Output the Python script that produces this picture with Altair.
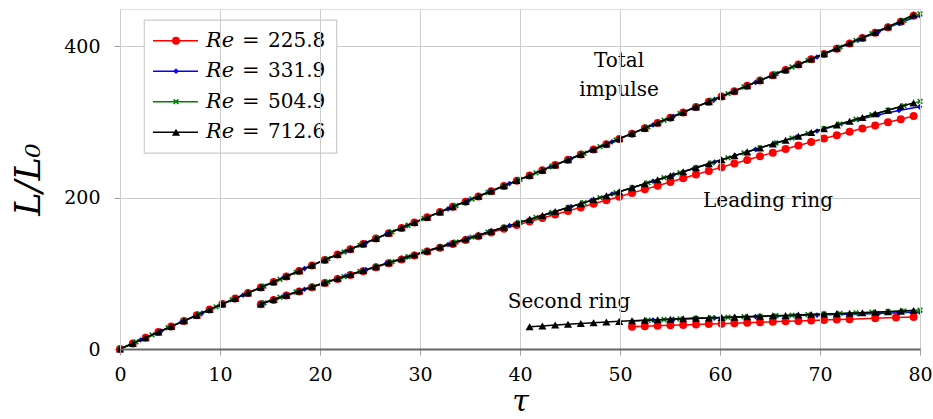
import altair as alt
import pandas as pd

SERIES = ["Re = 225.8", "Re = 331.9", "Re = 504.9", "Re = 712.6"]
VALUES = ["225.8", "331.9", "504.9", "712.6"]
COLORS = ["#ff0000", "#0000ff", "#008000", "#000000"]

# time grid of Re=225.8 and Re=712.6
TAU_A = [0, 1.28, 2.56, 3.84, 5.12, 6.4, 7.68, 8.96, 10.24, 11.52,
         12.8, 14.08, 15.36, 16.64, 17.92, 19.2, 20.48, 21.76, 23.04, 24.32,
         25.6, 26.88, 28.16, 29.44, 30.72, 32.0, 33.28, 34.56, 35.84, 37.12,
         38.4, 39.68, 40.96, 42.24, 43.52, 44.8, 46.08, 47.36, 48.64, 49.92,
         51.2, 52.48, 53.76, 55.04, 56.32, 57.6, 58.88, 60.16, 61.44, 62.72,
         64.0, 65.28, 66.56, 67.84, 69.12, 70.4, 71.68, 72.96, 74.24, 75.52,
         76.8, 78.08, 79.36]
# time grid of Re=331.9
TAU_B = [0, 2.05, 4.1, 6.15, 8.2, 10.25, 12.3, 14.35, 16.4, 18.45,
         20.5, 22.55, 24.6, 26.65, 28.7, 30.75, 32.8, 34.85, 36.9, 38.95,
         41.0, 43.05, 45.1, 47.15, 49.2, 51.25, 53.3, 55.35, 57.4, 59.45,
         61.5, 63.55, 65.6, 67.65, 69.7, 71.75, 73.8, 75.85, 77.9, 79.95]
# time grid of Re=504.9
TAU_C = [0, 1.6, 3.2, 4.8, 6.4, 8.0, 9.6, 11.2, 12.8, 14.4,
         16.0, 17.6, 19.2, 20.8, 22.4, 24.0, 25.6, 27.2, 28.8, 30.4,
         32.0, 33.6, 35.2, 36.8, 38.4, 40.0, 41.6, 43.2, 44.8, 46.4,
         48.0, 49.6, 51.2, 52.8, 54.4, 56.0, 57.6, 59.2, 60.8, 62.4,
         64.0, 65.6, 67.2, 68.8, 70.4, 72.0, 73.6, 75.2, 76.8, 78.4,
         80.0]
TAU_RED_SECOND = [51.2, 52.48, 53.76, 55.04, 56.32, 57.6, 58.88, 60.16, 61.44, 62.72,
                  64.0, 65.28, 66.56, 67.84, 69.12, 70.4, 71.68, 72.96, 75.52, 77.6,
                  79.36]

RED_TOTAL = [0, 7.4, 14.8, 22.3, 29.7, 37.1, 44.5, 52.0, 59.4, 66.6,
             73.9, 81.2, 88.5, 95.8, 103.1, 110.4, 117.6, 124.7, 131.7, 138.8,
             145.8, 152.8, 159.9, 166.9, 173.9, 180.8, 187.7, 194.6, 201.5, 208.4,
             215.3, 222.2, 229.1, 236.0, 242.9, 249.8, 256.7, 263.6, 270.5, 277.4,
             284.4, 291.4, 298.4, 305.4, 312.4, 319.5, 326.5, 333.5, 340.5, 347.5,
             354.5, 361.5, 368.6, 375.6, 382.6, 389.6, 396.6, 403.6, 410.6, 417.7,
             425.0, 432.3, 440.0]
RED_LEAD = [59.0, 64.8, 70.5, 76.0, 81.6, 87.0, 92.3, 97.6, 102.8, 108.0,
            113.1, 118.3, 123.4, 128.6, 133.7, 138.8, 143.9, 148.9, 153.9, 158.8,
            163.6, 168.3, 173.0, 177.6, 182.3, 187.0, 191.7, 196.4, 201.1, 205.9,
            210.8, 215.7, 220.6, 225.5, 230.4, 235.2, 240.1, 244.9, 249.7, 254.5,
            259.3, 264.0, 268.7, 273.4, 277.9, 282.4, 286.8, 291.1, 295.3, 299.4,
            303.5, 307.6]
RED_SECOND = [29.4, 30.0, 30.6, 31.2, 31.8, 32.4, 33.0, 33.5, 34.1, 34.7,
              35.3, 35.9, 36.5, 37.0, 37.6, 38.2, 38.8, 39.4, 40.6, 41.5,
              42.4]

BLUE_TOTAL = [0, 11.9, 23.8, 35.7, 47.6, 59.4, 71.1, 82.8, 94.5, 106.2,
              117.7, 129.0, 140.3, 151.6, 162.9, 174.1, 185.1, 196.2, 207.3, 218.4,
              229.3, 240.4, 251.5, 262.5, 273.6, 284.7, 295.9, 307.2, 318.4, 329.6,
              340.9, 352.0, 363.2, 374.4, 385.6, 396.9, 408.1, 419.2, 430.0, 440.5]
BLUE_LEAD = [60.6, 69.8, 78.9, 87.7, 96.3, 104.8, 113.1, 121.4, 129.7, 138.0,
             146.2, 154.6, 162.9, 171.2, 179.6, 188.0, 196.3, 204.7, 213.1, 221.6,
             230.1, 238.6, 247.0, 255.4, 263.7, 272.0, 280.0, 287.9, 295.6, 302.8,
             309.4, 314.9, 319.8]
BLUE_SECOND = [37.0, 38.2, 39.2, 40.2, 41.1, 42.0, 42.8, 43.5, 44.1, 44.8,
               45.5, 46.2, 47.0, 47.9, 48.8]

GREEN_TOTAL = [0, 9.3, 18.6, 27.9, 37.1, 46.4, 55.7, 64.8, 73.9, 83.0,
               92.1, 101.2, 110.4, 119.3, 128.1, 136.9, 145.8, 154.6, 163.4, 172.2,
               180.8, 189.5, 198.1, 206.7, 215.3, 223.9, 232.6, 241.3, 249.9, 258.6,
               267.3, 275.9, 284.5, 293.3, 302.1, 310.9, 319.7, 328.5, 337.2, 346.0,
               354.8, 363.6, 372.4, 381.2, 389.9, 398.7, 407.5, 416.3, 425.1, 433.9,
               442.6]
GREEN_LEAD = [61.0, 68.3, 75.3, 82.2, 88.9, 95.6, 102.3, 108.8, 115.3, 121.8,
              128.3, 134.8, 141.3, 147.8, 154.3, 160.8, 167.3, 173.8, 180.3, 186.8,
              193.3, 199.8, 206.3, 212.9, 219.5, 226.2, 232.8, 239.4, 245.9, 252.5,
              259.0, 265.5, 272.0, 278.4, 284.7, 291.0, 297.2, 303.4, 309.4, 315.4,
              321.4, 327.0]
GREEN_SECOND = [38.0, 39.0, 39.8, 40.5, 41.2, 41.9, 42.6, 43.2, 43.9, 44.6,
                45.4, 46.2, 47.0, 47.8, 48.6, 49.5, 50.4, 51.4]

BLACK_TOTAL = [0, 7.4, 14.9, 22.4, 29.8, 37.2, 44.6, 52.1, 59.5, 66.8,
               74.1, 81.4, 88.7, 96.0, 103.3, 110.6, 117.8, 124.9, 132.0, 139.0,
               146.0, 153.1, 160.1, 167.1, 174.1, 181.0, 187.9, 194.8, 201.7, 208.6,
               215.5, 222.4, 229.3, 236.2, 243.1, 250.0, 256.9, 263.8, 270.7, 277.7,
               284.7, 291.7, 298.7, 305.7, 312.7, 319.7, 326.7, 333.7, 340.7, 347.8,
               354.8, 361.8, 368.9, 375.9, 383.0, 390.0, 397.1, 404.1, 411.2, 418.3,
               425.6, 433.2, 441.5]
BLACK_LEAD = [59.5, 65.3, 71.0, 76.6, 82.2, 87.6, 93.0, 98.3, 103.6, 108.8,
              114.0, 119.2, 124.4, 129.6, 134.8, 140.0, 145.2, 150.4, 155.6, 160.8,
              166.0, 171.2, 176.4, 181.6, 186.8, 192.0, 197.2, 202.4, 207.6, 212.9,
              218.2, 223.5, 228.8, 234.1, 239.4, 244.6, 249.9, 255.1, 260.3, 265.5,
              270.7, 275.8, 280.9, 286.0, 291.0, 296.0, 300.9, 305.8, 310.6, 315.4,
              320.2, 325.0]
BLACK_SECOND = [29.4, 30.5, 31.6, 32.7, 33.7, 34.7, 35.6, 36.5, 37.3, 38.0,
                38.7, 39.3, 39.9, 40.5, 41.0, 41.6, 42.1, 42.7, 43.2, 43.8,
                44.3, 44.9, 45.5, 46.1, 46.7, 47.3, 47.9, 48.6, 49.3, 50.0,
                50.8]

ANNOT_TEXT = ["Total", "impulse", "Leading ring", "Second ring"]
ANNOT_TAU = [49.9, 49.9, 64.8, 44.9]
ANNOT_L = [380, 342, 195.4, 62]

rows = []


def add(series, curve, taus, vals):
    assert len(taus) == len(vals), (series, curve, len(taus), len(vals))
    for t, v in zip(taus, vals):
        rows.append({"series": series, "curve": curve, "tau": t, "L": v})


add(SERIES[0], "total", TAU_A, RED_TOTAL)
add(SERIES[0], "lead", TAU_A[11:], RED_LEAD)
add(SERIES[0], "second", TAU_RED_SECOND, RED_SECOND)
add(SERIES[1], "total", TAU_B, BLUE_TOTAL)
add(SERIES[1], "lead", TAU_B[7:], BLUE_LEAD)
add(SERIES[1], "second", TAU_B[25:], BLUE_SECOND)
add(SERIES[2], "total", TAU_C, GREEN_TOTAL)
add(SERIES[2], "lead", TAU_C[9:], GREEN_LEAD)
add(SERIES[2], "second", TAU_C[33:], GREEN_SECOND)
add(SERIES[3], "total", TAU_A, BLACK_TOTAL)
add(SERIES[3], "lead", TAU_A[11:], BLACK_LEAD)
add(SERIES[3], "second", TAU_A[32:], BLACK_SECOND)
df = pd.DataFrame(rows)

FONT = "'DejaVu Serif', 'Liberation Serif', serif"

X = alt.X("tau:Q", title="τ",
          scale=alt.Scale(domain=[0, 80], nice=False, zero=False),
          axis=alt.Axis(values=list(range(0, 81, 10)), format="d", grid=True,
                        gridColor="#cccccc", gridWidth=1, tickColor="#a0a0a0",
                        tickSize=6, domainColor="#666666", domainWidth=2,
                        labelFlush=False, labelOverlap=False,
                        labelFont=FONT, labelFontSize=19, labelColor="black",
                        labelPadding=10, titleFont=FONT, titleFontSize=30,
                        titleFontStyle="italic", titleFontWeight="normal",
                        titleColor="black", titlePadding=2, zindex=1))
Y = alt.Y("L:Q", title="L/L₀",
          scale=alt.Scale(domain=[0, 449], nice=False),
          axis=alt.Axis(values=[0, 200, 400], format="d", grid=True,
                        gridColor="#cccccc", gridWidth=1, tickColor="#a0a0a0",
                        tickSize=6, domain=False, labelFlush=False,
                        labelFont=FONT, labelFontSize=19, labelColor="black",
                        labelPadding=14, titleFont=FONT, titleFontSize=35,
                        titleFontStyle="italic", titleFontWeight="normal",
                        titleColor="black", titlePadding=17))

base = alt.Chart(df)
STYLES = [
    dict(shape="circle", size=64, filled=True, strokeWidth=0),
    dict(shape="diamond", size=32, filled=True, strokeWidth=0),
    dict(shape="M-1,-1L1,1M-1,1L1,-1", size=22, filled=False, strokeWidth=1.6),
    dict(shape="triangle-up", size=66, filled=True, strokeWidth=0),
]

layers = []
for s, c, st in zip(SERIES, COLORS, STYLES):
    sub = base.transform_filter(alt.datum.series == s)
    layers.append(sub.mark_line(color=c, strokeWidth=1.5).encode(
        x=X, y=Y, detail="curve:N"))
    layers.append(sub.mark_point(color=c, opacity=1, **st).encode(x=X, y=Y))

annot = pd.DataFrame({"text": ANNOT_TEXT, "tau": ANNOT_TAU, "L": ANNOT_L})
layers.append(alt.Chart(annot).mark_text(font=FONT, fontSize=20, color="black",
                                         align="center", baseline="middle").encode(
    x=X, y=Y, text="text:N"))

# legend (placed in data units of the axes)
LEG_L = [407.2, 366.9, 326.6, 286.3]
leg = pd.DataFrame({"series": SERIES, "val": VALUES, "L": LEG_L,
                    "x1": [3.3] * 4, "x2": [7.8] * 4, "xm": [5.6] * 4,
                    "t1": [8.6] * 4, "teq": [12.2] * 4, "t2": [14.8] * 4})
box = pd.DataFrame({"tau": [2.43], "tau2": [21.67], "L": [258.8], "L2": [434.4]})
layers.append(alt.Chart(box).mark_rect(fill="white", stroke="#cccccc",
                                       strokeWidth=1.2).encode(
    x=X, x2="tau2:Q", y=Y, y2="L2:Q"))
legc = alt.Chart(leg)
LY = alt.Y("L:Q", title="L/L₀")
layers.append(legc.mark_rule(strokeWidth=1.5).encode(
    x=alt.X("x1:Q", title="τ"), x2="x2:Q", y=LY,
    color=alt.Color("series:N", scale=alt.Scale(domain=SERIES, range=COLORS),
                    legend=None)))
for s, c, st in zip(SERIES, COLORS, STYLES):
    layers.append(legc.transform_filter(alt.datum.series == s).mark_point(
        color=c, opacity=1, **st).encode(
        x=alt.X("xm:Q", title="τ"), y=LY))
layers.append(legc.mark_text(font=FONT, fontSize=21, fontStyle="italic",
                             align="left", baseline="middle", color="black").encode(
    x=alt.X("t1:Q", title="τ"), y=LY, text=alt.value("Re")))
layers.append(legc.mark_text(font=FONT, fontSize=21, align="left",
                             baseline="middle", color="black").encode(
    x=alt.X("teq:Q", title="τ"), y=LY, text=alt.value("=")))
layers.append(legc.mark_text(font=FONT, fontSize=20, align="left",
                             baseline="middle", color="black").encode(
    x=alt.X("t2:Q", title="τ"), y=LY, text="val:N"))

chart = alt.layer(*layers).properties(
    width=800, height=340,
    autosize=alt.AutoSizeParams(type="none"),
    padding={"left": 120, "top": 9, "right": 13, "bottom": 70},
).configure_view(stroke="#222222", strokeWidth=1.2).configure(background="white")

chart.save("out.html", embed_options={"renderer": "svg", "actions": False})
